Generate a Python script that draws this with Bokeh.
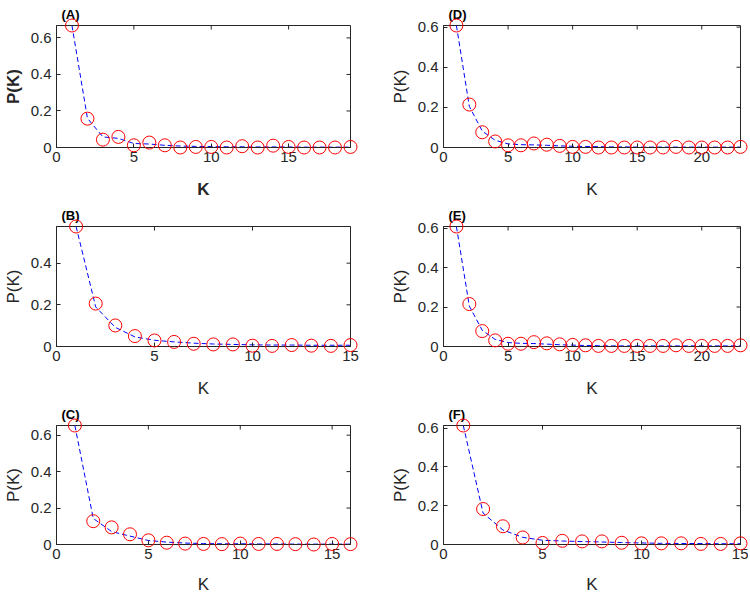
import math
from bokeh.plotting import figure
from bokeh.layouts import row, column
from bokeh.models import Range1d, FixedTicker, CustomJSTickFormatter
from bokeh.embed import file_html
from bokeh.resources import INLINE

# ---------------- data ----------------
k_a = list(range(1, 20))
p_a = [0.668, 0.158, 0.043, 0.058, 0.012, 0.027, 0.012, 0.0, 0.003, 0.003,
       0.0, 0.007, 0.0, 0.010, 0.003, 0.0, 0.0, 0.0, 0.003]
fit_a = [0.668, 0.160, 0.058, 0.050, 0.022, 0.019, 0.012, 0.008, 0.006, 0.005,
         0.004, 0.004, 0.003, 0.003, 0.003, 0.002, 0.002, 0.002, 0.002]

k_b = list(range(1, 16))
p_b = [0.576, 0.206, 0.101, 0.050, 0.029, 0.022, 0.013, 0.010, 0.010, 0.004,
       0.003, 0.007, 0.004, 0.003, 0.007]
fit_b = [0.576, 0.190, 0.092, 0.046, 0.030, 0.022, 0.016, 0.012, 0.010, 0.008,
         0.007, 0.007, 0.006, 0.006, 0.006]

k_c = list(range(1, 17))
p_c = [0.653, 0.128, 0.094, 0.056, 0.023, 0.010, 0.005, 0.003, 0.002, 0.005,
       0.003, 0.003, 0.002, 0.0, 0.003, 0.002]
fit_c = [0.653, 0.143, 0.071, 0.046, 0.022, 0.013, 0.008, 0.005, 0.004, 0.004,
         0.003, 0.003, 0.002, 0.002, 0.002, 0.002]

k_d = list(range(1, 24))
p_d = [0.608, 0.214, 0.076, 0.030, 0.011, 0.011, 0.020, 0.014, 0.008, 0.003,
       0.003, 0.0, 0.0, 0.0, 0.0, 0.0, 0.0, 0.003, 0.0, 0.0, 0.0, 0.0, 0.003]
fit_d = [0.608, 0.205, 0.082, 0.036, 0.018, 0.014, 0.013, 0.011, 0.008, 0.006,
         0.005, 0.004, 0.003, 0.003, 0.002, 0.002, 0.002, 0.002, 0.002, 0.002,
         0.002, 0.002, 0.002]

k_e = list(range(1, 24))
p_e = [0.608, 0.215, 0.078, 0.031, 0.014, 0.014, 0.022, 0.016, 0.011, 0.008,
       0.006, 0.003, 0.003, 0.003, 0.003, 0.003, 0.003, 0.006, 0.003, 0.003,
       0.003, 0.003, 0.006]
fit_e = [0.608, 0.205, 0.082, 0.036, 0.020, 0.016, 0.015, 0.012, 0.009, 0.007,
         0.005, 0.004, 0.003, 0.003, 0.003, 0.003, 0.003, 0.003, 0.003, 0.003,
         0.003, 0.003, 0.003]

k_f = list(range(1, 16))
p_f = [0.614, 0.183, 0.094, 0.036, 0.008, 0.019, 0.016, 0.016, 0.009, 0.006,
       0.006, 0.006, 0.003, 0.003, 0.006]
fit_f = [0.614, 0.162, 0.075, 0.037, 0.022, 0.018, 0.015, 0.013, 0.010, 0.008,
         0.006, 0.005, 0.005, 0.004, 0.004]

xmax_a, xmax_b, xmax_c, xmax_d, xmax_e, xmax_f = 19, 15, 16, 23, 23, 15
x_ticks = [0, 5, 10, 15, 20]
y_ticks = [0, 0.2, 0.4, 0.6]
tags = ["(A)", "(B)", "(C)", "(D)", "(E)", "(F)"]
x_label = "K"
y_label = "P(K)"

# ---------------- style ----------------
FONT = "Liberation Sans"
AX = "#262626"
TICK_FS = "15px"
LABEL_FS = "17px"

fmt_code = "return String(+tick.toFixed(2));"


def make_panel(tag, k, p, fit, xmax, w, h, mbl, mbr, mbt, mbb, bold, xlab_standoff):
    ymax = max(p)
    fig = figure(width=w, height=h, x_range=Range1d(0, xmax), y_range=Range1d(0, ymax),
                 output_backend="svg", toolbar_location=None,
                 min_border_left=mbl, min_border_right=mbr,
                 min_border_top=mbt, min_border_bottom=mbb)
    fig.grid.visible = False
    fig.outline_line_color = AX
    fig.outline_line_width = 1

    # panel tag above the box, at its left
    fig.title.text = tag
    fig.title.align = "left"
    fig.title.offset = 5
    fig.title.standoff = 8
    fig.title.text_font = FONT
    fig.title.text_font_size = "13px"
    fig.title.text_font_style = "bold"
    fig.title.text_color = "black"

    # inward tick marks on the top and right edges of the box (from tick lists)
    xt = [t for t in x_ticks if t <= xmax]
    yt = [t for t in y_ticks if t <= ymax]
    fig.scatter(xt, [ymax] * len(xt), marker="dash", angle=math.pi / 2, size=8,
                line_color=AX, line_width=1)
    fig.scatter([xmax] * len(yt), yt, marker="dash", size=8,
                line_color=AX, line_width=1)

    fig.line(k, fit, line_color="blue", line_dash="5 3", line_width=1)
    fig.scatter(k, p, marker="circle", size=13, fill_color=None,
                line_color="red", line_width=1, level="overlay")

    for ax in (fig.xaxis[0], fig.yaxis[0]):
        ax.major_tick_in = 4
        ax.major_tick_out = 0
        ax.minor_tick_line_color = None
        ax.axis_line_color = AX
        ax.major_tick_line_color = AX
        ax.major_label_text_color = AX
        ax.major_label_text_font = FONT
        ax.major_label_text_font_size = TICK_FS
        ax.axis_label_text_font = FONT
        ax.axis_label_text_font_size = LABEL_FS
        ax.axis_label_text_color = AX
        ax.axis_label_text_font_style = "bold" if bold else "normal"
        ax.formatter = CustomJSTickFormatter(code=fmt_code)
    fig.xaxis[0].ticker = FixedTicker(ticks=x_ticks)
    fig.yaxis[0].ticker = FixedTicker(ticks=y_ticks)
    fig.xaxis[0].axis_label = x_label
    fig.yaxis[0].axis_label = y_label
    fig.xaxis[0].major_label_standoff = 4
    fig.xaxis[0].axis_label_standoff = xlab_standoff
    fig.yaxis[0].major_label_standoff = 5
    fig.yaxis[0].axis_label_standoff = 5
    return fig


LW, RW = 383, 365
H1, H2, H3 = 201, 199, 196

pa = make_panel(tags[0], k_a, p_a, fit_a, xmax_a, LW, H1, 52, 33, 23, 48, True, 15)
pd_ = make_panel(tags[3], k_d, p_d, fit_d, xmax_d, RW, H1, 60, 8, 23, 48, False, 15)
pb = make_panel(tags[1], k_b, p_b, fit_b, xmax_b, LW, H2, 52, 33, 23, 46, False, 15)
pe = make_panel(tags[4], k_e, p_e, fit_e, xmax_e, RW, H2, 60, 8, 23, 46, False, 15)
pc = make_panel(tags[2], k_c, p_c, fit_c, xmax_c, LW, H3, 52, 33, 23, 43, False, 13)
pf = make_panel(tags[5], k_f, p_f, fit_f, xmax_f, RW, H3, 60, 8, 23, 43, False, 13)

layout = column(row(pa, pd_), row(pb, pe), row(pc, pf))

open("out.html", "w").write(file_html(layout, INLINE))
